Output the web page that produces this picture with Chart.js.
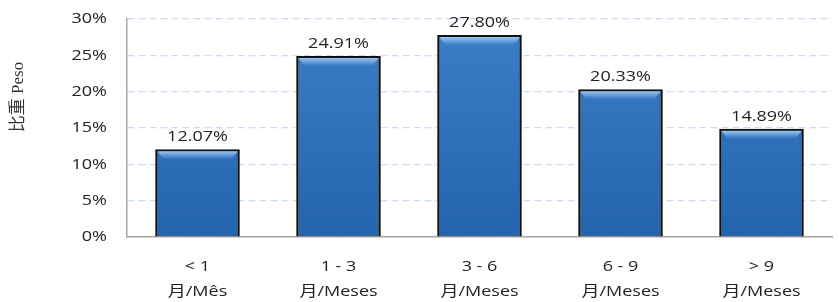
<!DOCTYPE html>
<html>
<head>
<meta charset="utf-8">
<script src="https://cdn.jsdelivr.net/npm/chart.js@4"></script>
<style>
  html, body { margin: 0; padding: 0; background: #fff; }
  #wrap { width: 839px; height: 302px; }
</style>
</head>
<body>
<div id="wrap"><canvas id="myChart" width="839" height="302"></canvas></div>
<script>
const categories = [['< 1', '月/Mês'], ['1 - 3', '月/Meses'], ['3 - 6', '月/Meses'], ['6 - 9', '月/Meses'], ['> 9', '月/Meses']];
const shares = [12.07, 24.91, 27.80, 20.33, 14.89];
const yTicks = [0, 5, 10, 15, 20, 25, 30];
const yTitle = '比重 Peso';

const ctx = document.getElementById('myChart');
const FONT = '15px "Open Sans", "Noto Sans CJK SC", sans-serif';
const STRETCH = 1.2; // the original text is a bit wide, so stretch it sideways

function wideText(c, txt, x, y) {
  c.save();
  c.translate(x, y);
  c.scale(STRETCH, 1);
  c.fillText(txt, 0, 0);
  c.restore();
}

// light bevel along the top of each bar
const bevel = {
  id: 'bevel',
  afterDatasetsDraw(chart) {
    const c = chart.ctx;
    c.save();
    chart.getDatasetMeta(0).data.forEach(bar => {
      const l = bar.x - bar.width / 2 + 2, r = bar.x + bar.width / 2 - 2, t = bar.y + 2;
      const g = c.createLinearGradient(0, t, 0, t + 8);
      g.addColorStop(0, 'rgba(190,220,250,0.75)');
      g.addColorStop(1, 'rgba(190,220,250,0)');
      c.fillStyle = g;
      c.beginPath();
      c.moveTo(l, t);
      c.lineTo(r, t);
      c.lineTo(r - 6, t + 8);
      c.lineTo(l + 6, t + 8);
      c.closePath();
      c.fill();
    });
    c.restore();
  }
};

// tick labels, value labels and the side title, all drawn by hand
const textLayer = {
  id: 'textLayer',
  afterDraw(chart) {
    const c = chart.ctx;
    const xs = chart.scales.x;
    const ys = chart.scales.y;
    const meta = chart.getDatasetMeta(0);
    c.save();
    c.font = FONT;
    c.fillStyle = '#222';

    c.textAlign = 'right';
    c.textBaseline = 'middle';
    yTicks.forEach(v => wideText(c, v + '%', 107, ys.getPixelForValue(v)));

    c.textAlign = 'center';
    categories.forEach((lines, i) => {
      const x = xs.getPixelForTick(i);
      lines.forEach((t, k) => wideText(c, t, x, xs.top + 30 + k * 25));
    });

    c.textBaseline = 'bottom';
    meta.data.forEach((bar, i) => {
      wideText(c, shares[i].toFixed(2) + '%', bar.x, bar.y - 5);
    });

    c.translate(19, 97);
    c.rotate(-Math.PI / 2);
    c.font = '17px "Liberation Serif", "Noto Sans CJK SC", serif';
    c.fillStyle = '#333';
    c.textBaseline = 'middle';
    c.fillText(yTitle, 0, 0);
    c.restore();
  }
};

function barFill(context) {
  const chart = context.chart;
  const area = chart.chartArea;
  if (!area) return '#2e6db4';
  const g = chart.ctx.createLinearGradient(0, area.top, 0, area.bottom);
  g.addColorStop(0, '#3d7ec8');
  g.addColorStop(1, '#2464ae');
  return g;
}

const myChart = new Chart(ctx, {
  type: 'bar',
  data: {
    labels: categories,
    datasets: [{
      data: shares,
      backgroundColor: barFill,
      borderColor: '#111',
      borderWidth: 2.5,
      borderSkipped: 'bottom',
      categoryPercentage: 1,
      barPercentage: 0.6
    }]
  },
  options: {
    responsive: false,
    animation: false,
    layout: { padding: { top: 19, right: 7, left: 0, bottom: 0 } },
    plugins: { legend: { display: false }, tooltip: { enabled: false } },
    scales: {
      x: {
        z: 1,
        grid: { display: false, drawTicks: false },
        border: { color: '#a6a6a6', width: 1.5 },
        ticks: { display: false },
        afterFit(scale) { scale.height = 65; }
      },
      y: {
        z: 1,
        min: 0,
        max: 30,
        afterBuildTicks(scale) { scale.ticks = yTicks.map(v => ({ value: v })); },
        grid: { color: 'rgba(170,196,230,0.6)', lineWidth: 1.2, drawTicks: false },
        border: { color: '#a6a6a6', width: 1.5, dash: [7, 4] },
        ticks: { display: false },
        afterFit(scale) { scale.width = 127; }
      }
    }
  },
  plugins: [bevel, textLayer]
});
</script>
</body>
</html>
